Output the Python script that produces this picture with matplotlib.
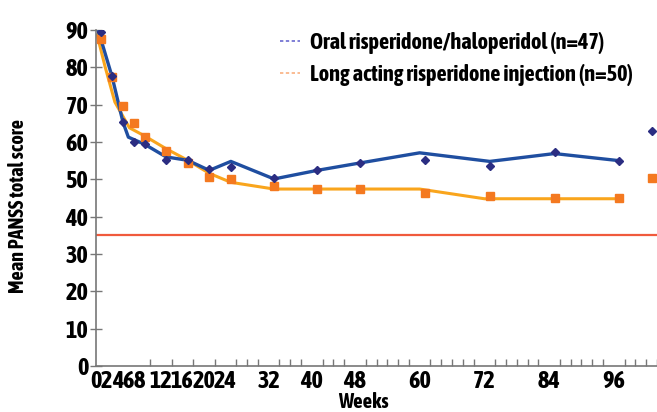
import numpy as np
import matplotlib
matplotlib.use("Agg")
import matplotlib.pyplot as plt
from matplotlib.lines import Line2D

plt.rcParams['font.family'] = ['Asap Condensed', 'DejaVu Sans']
plt.rcParams['font.weight'] = 'bold'

# observed means (markers)
oral_weeks = [1, 3, 5, 7, 9, 13, 17, 21, 25, 33, 41, 49, 61, 73, 85, 97, 103]
oral_vals = [89.4, 77.6, 65.3, 60.0, 59.4, 55.2, 55.2, 52.8, 53.3, 50.4, 52.4, 54.4,
             55.2, 53.6, 57.3, 55.0, 62.9]
lai_weeks = [1, 3, 5, 7, 9, 13, 17, 21, 25, 33, 41, 49, 61, 73, 85, 97, 103]
lai_vals = [87.5, 77.4, 69.6, 65.1, 61.3, 57.6, 54.3, 50.6, 50.1, 48.1, 47.3, 47.3,
            46.3, 45.6, 45.1, 45.1, 50.4]

# fitted curves
oral_fit_weeks = [0.5, 3, 5, 6, 9, 13, 17, 21, 25, 33, 41, 49, 60, 73, 85, 97]
oral_fit_vals = [89.5, 77.4, 65.3, 61.3, 59.4, 56.0, 55.1, 52.4, 54.8, 50.1, 52.4,
                 54.4, 57.1, 54.8, 56.9, 55.0]
lai_fit_weeks = [0.2, 1.7, 3.5, 6.2, 8.8, 13, 17, 21, 25, 33, 60, 72, 97]
lai_fit_vals = [88.7, 80.1, 70.7, 63.8, 61.8, 58.2, 55.1, 51.6, 49.2, 47.4, 47.4,
                44.8, 44.8]

reference_line = 35
week_labels = [0, 2, 4, 6, 8, 12, 16, 20, 24, 32, 40, 48, 60, 72, 84, 96]
legend_labels = ['Oral risperidone/haloperidol (n=47)',
                 'Long acting risperidone injection (n=50)']

fig = plt.figure(figsize=(6.57, 4.12), dpi=100)
ax = fig.add_axes([96 / 657, 46 / 412, 561 / 657, 336 / 412])

blue_line = '#1f4ea0'
blue_mark = '#2b2d82'
orange_line = '#f9a51c'
orange_mark = '#f47920'

ax.axhline(reference_line, color='#f05a3c', lw=1.6, zorder=1)
ax.plot(lai_fit_weeks, lai_fit_vals, color=orange_line, lw=2.2, zorder=2)
ax.plot(oral_fit_weeks, oral_fit_vals, color=blue_line, lw=2.4, zorder=3)
ax.plot(lai_weeks, lai_vals, 's', color=orange_mark, ms=5.5, zorder=4)
ax.plot(oral_weeks, oral_vals, 'D', color=blue_mark, ms=4.5, zorder=5)

ax.set_xlim(0, 104)
ax.set_ylim(0, 90)

for s in ['top', 'right']:
    ax.spines[s].set_visible(False)
for s in ['left', 'bottom']:
    ax.spines[s].set_color('#777777')
    ax.spines[s].set_linewidth(1.2)

ax.set_yticks(range(0, 91, 10))
ax.tick_params(axis='y', direction='inout', length=9, width=1, color='#777777',
               labelsize=17.5, pad=1)
ax.set_xticks(week_labels)
ax.set_xticks(np.arange(0, 105, 2), minor=True)
ax.tick_params(axis='x', which='major', length=0, labelsize=17.5, pad=3)
ax.tick_params(axis='x', which='minor', direction='in', length=5, width=1,
               color='#777777')
for lbl in ax.get_xticklabels() + ax.get_yticklabels():
    lbl.set_fontweight('bold')

ax.set_xlabel('Weeks', fontsize=15, fontweight='bold')
ax.xaxis.set_label_coords(0.476, -0.078)
fig.text(18 / 657, 0.5, 'Mean PANSS total score', rotation=90, fontsize=14.5,
         fontweight='bold', ha='center', va='center')

handles = [Line2D([], [], color='#6a6ad0', ls=(0, (2, 1.5)), lw=1.2),
           Line2D([], [], color='#f9b080', ls=(0, (2, 1.5)), lw=1.2)]
ax.legend(handles, legend_labels, loc='upper left', bbox_to_anchor=(0.292, 1.055),
          frameon=False, handlelength=0.9, handletextpad=0.45,
          labelspacing=0.45, prop={'weight': 'bold', 'size': 16})

fig.savefig('out.png', dpi=100)
